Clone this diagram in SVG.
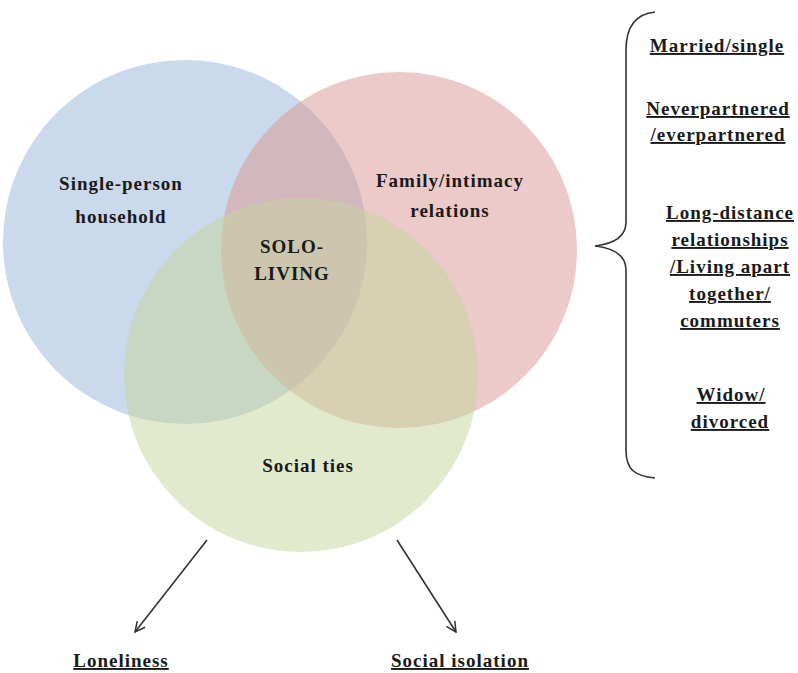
<svg xmlns="http://www.w3.org/2000/svg" width="798" height="673" viewBox="0 0 798 673">
<style>
.t{font-family:"Liberation Serif","Times New Roman",serif;font-weight:bold;font-size:19px;letter-spacing:1px;fill:#1a1a1a;text-anchor:middle}
.u{text-decoration:underline}
.c{stroke:none}
.ln{stroke:#333;stroke-width:1.6;fill:none}
</style>
<defs>
<marker id="ah" viewBox="0 0 12 12" refX="11" refY="6" markerWidth="12" markerHeight="12" markerUnits="userSpaceOnUse" orient="auto">
<path d="M1,1 L11,6 L1,11" fill="none" stroke="#333" stroke-width="1.5"/>
</marker>
</defs>
<rect width="798" height="673" fill="#fff"/>
<g id="circles">
<g id="blue"><circle class="c" cx="185" cy="242" r="182" fill="#95b3d7" fill-opacity="0.5"/></g>
<g id="red"><circle class="c" cx="399" cy="250" r="178" fill="#d99594" fill-opacity="0.5"/></g>
<g id="green"><circle class="c" cx="301" cy="375" r="177" fill="#c3d69b" fill-opacity="0.5"/></g>
</g>
<g id="labels">
<text class="t" x="121" y="190">Single-person</text>
<text class="t" x="121" y="223">household</text>
<text class="t" x="292" y="253">SOLO-</text>
<text class="t" x="292" y="280">LIVING</text>
<text class="t" x="450" y="187">Family/intimacy</text>
<text class="t" x="450" y="217">relations</text>
<text class="t" x="308" y="472">Social ties</text>
</g>
<g id="brace">
<path class="ln" d="M655,12 C635,14 626,28 626,50 L626,222 C626,238 612,244 595,246 C612,248 626,254 626,270 L626,450 C626,470 635,476 655,478" stroke-width="2.6" stroke="#111"/>
</g>
<g id="categories">
<text class="t u" x="717" y="52">Married/single</text>
<text class="t u" x="718" y="115">Neverpartnered</text>
<text class="t u" x="718" y="141">/everpartnered</text>
<text class="t u" x="730" y="219">Long-distance</text>
<text class="t u" x="730" y="246">relationships</text>
<text class="t u" x="730" y="273">/Living apart</text>
<text class="t u" x="730" y="300">together/</text>
<text class="t u" x="730" y="327">commuters</text>
<text class="t u" x="731" y="401">Widow/</text>
<text class="t u" x="730" y="428">divorced</text>
</g>
<g id="connectors">
<line class="ln" x1="207" y1="540" x2="135" y2="632" marker-end="url(#ah)"/>
<line class="ln" x1="397" y1="540" x2="456" y2="632" marker-end="url(#ah)"/>
</g>
<g id="outcomes">
<text class="t u" x="121" y="667">Loneliness</text>
<text class="t u" x="460" y="667">Social isolation</text>
</g>
</svg>
